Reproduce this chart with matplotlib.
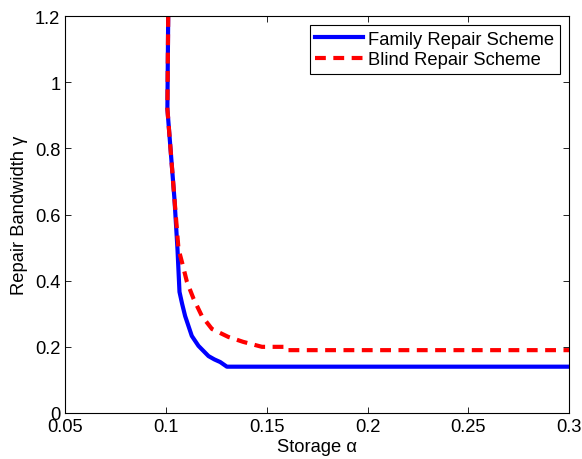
import matplotlib
matplotlib.use("Agg")
import matplotlib.pyplot as plt

plt.rcParams["font.family"] = ["Liberation Sans", "DejaVu Sans"]

# data
family_alpha = [0.1011, 0.1007, 0.1042, 0.1057, 0.1067, 0.1080, 0.1095, 0.1128,
                0.1161, 0.1190, 0.1211, 0.1240, 0.1269, 0.1302, 0.3]
family_gamma = [1.2, 0.919, 0.647, 0.496, 0.366, 0.33, 0.293, 0.233,
                0.203, 0.185, 0.172, 0.162, 0.154, 0.14, 0.14]

blind_alpha = [0.1011, 0.1007, 0.1042, 0.1062, 0.1084, 0.1104, 0.1137, 0.1178,
               0.1228, 0.1309, 0.1383, 0.1476, 0.1600, 0.1605, 0.3]
blind_gamma = [1.2, 0.919, 0.647, 0.496, 0.445, 0.396, 0.345, 0.293,
               0.254, 0.23, 0.215, 0.20, 0.20, 0.19, 0.19]

x_ticks = [0.05, 0.1, 0.15, 0.2, 0.25, 0.3]
x_labels = ["0.05", "0.1", "0.15", "0.2", "0.25", "0.3"]
y_ticks = [0, 0.2, 0.4, 0.6, 0.8, 1.0, 1.2]
y_labels = ["0", "0.2", "0.4", "0.6", "0.8", "1", "1.2"]

FS = 13.2

fig = plt.figure(figsize=(5.82, 4.6), dpi=100)
ax = fig.add_axes([0.112, 0.1, 0.866, 0.863])

ax.plot(family_alpha, family_gamma, color="#0000ff", lw=3.0,
        label="Family Repair Scheme")
ax.plot(blind_alpha, blind_gamma, color="#ff0000", lw=3.0, ls=(0, (2.6, 1.8)),
        label="Blind Repair Scheme")

ax.set_xlim(0.05, 0.3)
ax.set_ylim(0, 1.2)
ax.set_xticks(x_ticks)
ax.set_xticklabels(x_labels)
ax.set_yticks(y_ticks)
ax.set_yticklabels(y_labels)
ax.tick_params(direction="in", top=True, right=True, labelsize=FS,
               length=4, width=0.6)
for s in ax.spines.values():
    s.set_linewidth(0.8)

ax.set_xlabel("Storage α", fontsize=FS, labelpad=2)
ax.set_ylabel("Repair Bandwidth γ", fontsize=FS, labelpad=5)

leg = ax.legend(loc="upper right", fontsize=FS, fancybox=False,
                edgecolor="black", framealpha=1, borderpad=0.3,
                handlelength=2.6, handletextpad=0.3, labelspacing=0.2,
                borderaxespad=0.5)
leg.get_frame().set_linewidth(0.8)

fig.savefig("out.png", dpi=100)
